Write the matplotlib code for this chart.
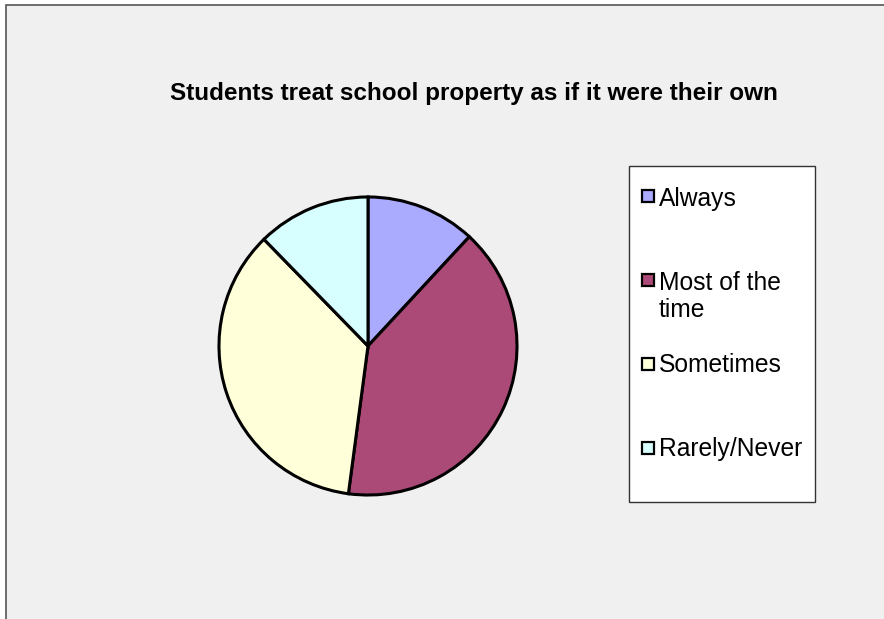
import matplotlib
matplotlib.use("Agg")
import matplotlib.pyplot as plt
from matplotlib.patches import Rectangle

# data (percent of responses)
categories = ["Always", "Most of the time", "Sometimes", "Rarely/Never"]
legend_labels = ["Always", "Most of the\ntime", "Sometimes", "Rarely/Never"]
values = [11.9, 40.2, 35.6, 12.3]
colors = ["#aaaaff", "#ab4a77", "#ffffd9", "#d7ffff"]
title = "Students treat school property as if it were their own"

W, H = 884, 619
fig = plt.figure(figsize=(W / 100, H / 100), dpi=100)
fig.patch.set_facecolor("white")

def fx(px):
    return px / W

def fy(py):
    return 1 - py / H

# chart area with its border
fig.patches.append(Rectangle((fx(6), -0.05), 1.0, fy(5) + 0.05,
                             transform=fig.transFigure, facecolor="#f0f0f0",
                             edgecolor="#555555", linewidth=1.2, zorder=0))

# pie
cx, cy, r = 368, 346, 152
ax = fig.add_axes([fx(cx - r), fy(cy + r), fx(2 * r), 2 * r / H])
ax.set_zorder(5)
wedges, _ = ax.pie(values, colors=colors, startangle=90, counterclock=False,
                   wedgeprops=dict(edgecolor="black", linewidth=2.2))
ax.set_xlim(-1.02, 1.02)
ax.set_ylim(-1.02, 1.02)
ax.set_aspect("equal")
ax.axis("off")

fig.text(fx(474), fy(100), title, ha="center", va="baseline",
         fontsize=17.5, fontweight="bold", family="Liberation Sans", color="black")

# legend box
fig.patches.append(Rectangle((fx(629), fy(502)), fx(815 - 629), (502 - 166) / H,
                             transform=fig.transFigure, facecolor="white",
                             edgecolor="#333333", linewidth=1.0, zorder=1))
marker_y = [196, 280, 364, 448]   # centre of each legend swatch (px)
text_base = [206, 317, 372, 456]  # baseline of each label's last line (px)
for lab, col, my, tb in zip(legend_labels, colors, marker_y, text_base):
    fig.patches.append(Rectangle((fx(642), fy(my + 6)), fx(12), 12 / H,
                                 transform=fig.transFigure, facecolor=col,
                                 edgecolor="black", linewidth=1.6, zorder=2))
    fig.text(fx(659), fy(tb), lab, ha="left", va="baseline", fontsize=17.7,
             family="Liberation Sans", linespacing=1.15, zorder=3)

fig.savefig("out.png", dpi=100)
